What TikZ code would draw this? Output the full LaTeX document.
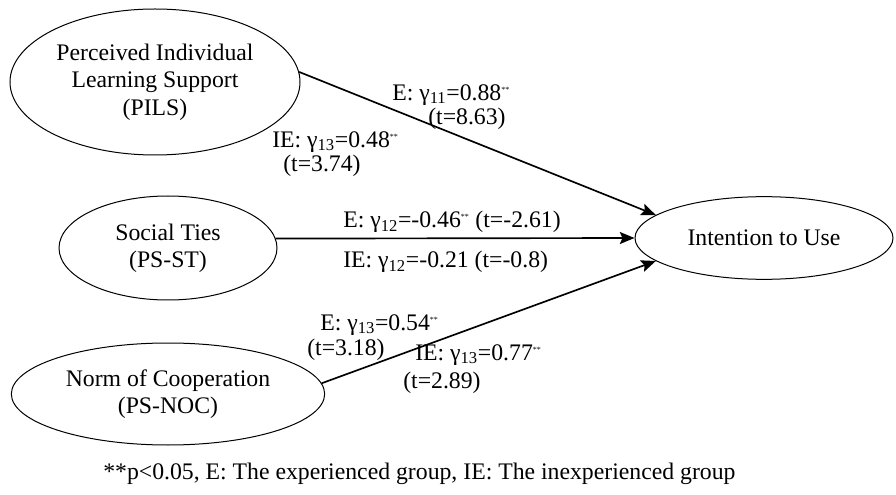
\documentclass[tikz,border=0pt]{standalone}
\usepackage{fontspec}
\setmainfont{Liberation Serif}
\usetikzlibrary{shapes.geometric,arrows.meta}
\newcommand{\sig}{\textsuperscript{\fontsize{6}{6}\selectfont **}}

\begin{document}
\begin{tikzpicture}[x=0.75pt,y=0.75pt,yscale=-1,xscale=1,
  every node/.style={font=\fontsize{17.8}{20.5}\selectfont},
  latent/.style={draw,ellipse,line width=0.75pt,inner sep=0pt,align=center},
  effect/.style={line width=1.25pt,-{Stealth[length=11pt,width=9pt,inset=2pt]}}]
%set diagram size 896 x 495
\path (0,0) rectangle (896,495);

%Shape: Ellipse
\node (pils) [latent,minimum width=217.5pt,minimum height=109.5pt] at (155,82) {Perceived Individual\\Learning Support\\(PILS)};
%Shape: Ellipse
\node (st) [latent,minimum width=163.5pt,minimum height=78pt] at (168,248) {Social Ties\\(PS-ST)};
%Shape: Ellipse
\node (noc) [latent,minimum width=235pt,minimum height=76.5pt] at (168,394) {Norm of Cooperation\\(PS-NOC)};
%Shape: Ellipse
\node (itu) [latent,minimum width=193.5pt,minimum height=62pt] at (764,238) {Intention to Use};

%Straight Lines
\draw [effect] (pils.4) -- (itu.168);
%Straight Lines
\draw [effect] (st.5) -- (itu.west);
%Straight Lines
\draw [effect] (noc.4) -- (itu.192);

% Text Node
\draw (392,95) node (e11) [anchor=west][inner sep=0pt] [align=left] {E: γ\textsubscript{11}=0.88\sig};
% Text Node
\draw (428,119) node (e11t) [anchor=west][inner sep=0pt] [align=left] {(t=8.63)};
% Text Node
\draw (272,142) node (ie13a) [anchor=west][inner sep=0pt] [align=left] {IE: γ\textsubscript{13}=0.48\sig};
% Text Node
\draw (283,166) node (ie13at) [anchor=west][inner sep=0pt] [align=left] {(t=3.74)};
% Text Node
\draw (343,222) node (e12) [anchor=west][inner sep=0pt] [align=left] {E: γ\textsubscript{12}=-0.46\sig{} (t=-2.61)};
% Text Node
\draw (343,262) node (ie12) [anchor=west][inner sep=0pt] [align=left] {IE: γ\textsubscript{12}=-0.21 (t=-0.8)};
% Text Node
\draw (320,325) node (e13) [anchor=west][inner sep=0pt] [align=left] {E: γ\textsubscript{13}=0.54\sig};
% Text Node
\draw (307,350) node (e13t) [anchor=west][inner sep=0pt] [align=left] {(t=3.18)};
% Text Node
\draw (415,355) node (ie13b) [anchor=west][inner sep=0pt] [align=left] {IE: γ\textsubscript{13}=0.77\sig};
% Text Node
\draw (403,383) node (ie13bt) [anchor=west][inner sep=0pt] [align=left] {(t=2.89)};
% Text Node
\draw (103,474) node (note) [anchor=west][inner sep=0pt] [align=left] {**p<0.05, E: The experienced group, IE: The inexperienced group};

\end{tikzpicture}
\end{document}
